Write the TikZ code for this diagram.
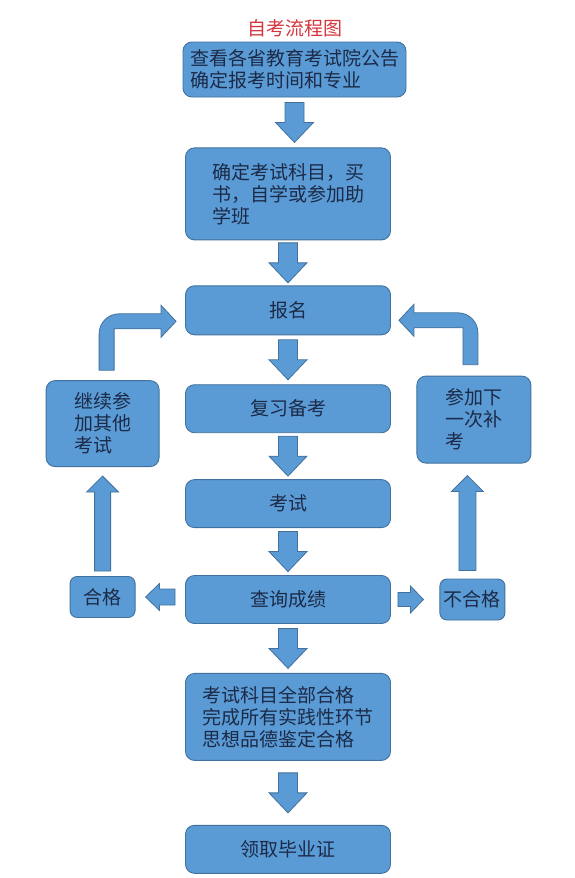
\documentclass[tikz,border=0pt]{standalone}
\usepackage{fontspec}
\setmainfont{Noto Sans CJK SC}
\usetikzlibrary{positioning,calc}
\definecolor{boxblue}{HTML}{5B9BD5}
\definecolor{boxline}{HTML}{41719C}
\definecolor{inktext}{HTML}{1B2A47}
\definecolor{titlered}{HTML}{D6363E}
\tikzset{
  box/.style={draw=boxline, fill=boxblue, line width=0.9pt, rounded corners=9pt, inner sep=3pt,
    text=inktext, font=\fontsize{19}{22}\selectfont, minimum width=205pt, minimum height=48pt},
  sidebox/.style={box, minimum width=113pt, minimum height=86pt},
  tagbox/.style={box, minimum width=65pt, minimum height=41pt, inner sep=1pt, rounded corners=7pt},
  blkarrow/.style={draw=boxline, fill=boxblue, line width=0.8pt, line join=miter},
}
% block arrow from #1 to tip #2: half shaft #3, half head #4, head length #5
\newcommand{\blk}[5]{%
  \coordinate (hb) at ($(#2)!#5!(#1)$);
  \draw[blkarrow] ($(#1)!#3!90:(#2)$) -- ($(hb)!#3!-90:(#1)$) -- ($(hb)!#4!-90:(#1)$) -- (#2)
    -- ($(hb)!#4!90:(#1)$) -- ($(hb)!#3!90:(#1)$) -- ($(#1)!#3!-90:(#2)$) -- cycle;}
% down arrow centred in the gap below #1
\newcommand{\downblk}[2]{%
  \coordinate (gm) at ($(#1.south)!.5!(#1.south |- #2.north)$);
  \coordinate (gs) at ($(gm)+(0,20pt)$);
  \coordinate (gt) at ($(gm)+(0,-20pt)$);
  \blk{gs}{gt}{9.5pt}{19pt}{20pt}}

\begin{document}
\begin{tikzpicture}
  \path[use as bounding box, fill=white] (0,0) rectangle (574pt,-878pt);

  \node[box, minimum width=223pt, minimum height=55pt, align=left] (notice) at (294.5pt,-69.5pt)
    {查看各省教育考试院公告\\确定报考时间和专业};
  \node[above=1pt of notice, text=titlered, font=\fontsize{19}{22}\selectfont] (title) {自考流程图};
  \node[box, minimum height=92pt, align=left, below=50pt of notice, xshift=-6.5pt] (subjects)
    {确定考试科目，买\\书，自学或参加助\\学班};
  \node[box, minimum height=49pt, below=45pt of subjects] (signup) {报名};
  \node[box, below=49pt of signup] (review) {复习备考};
  \node[box, below=46pt of review] (exam) {考试};
  \node[box, below=47pt of exam] (score) {查询成绩};
  \node[box, minimum height=87pt, align=left, below=49pt of score] (qualify)
    {考试科目全部合格\\完成所有实践性环节\\思想品德鉴定合格};
  \node[box, below=64pt of qualify] (cert) {领取毕业证};

  \node[tagbox, left=49.5pt of score, yshift=2.5pt] (pass) {合格};
  \node[tagbox, right=48.5pt of score] (fail) {不合格};
  \node[sidebox, align=left, above=109pt of pass] (other) {继续参\\加其他\\考试};
  \node[sidebox, align=left, minimum width=114pt, minimum height=87pt, above=115pt of fail, xshift=1.5pt] (retry)
    {参加下\\一次补\\考};

  % main column
  \downblk{notice}{subjects}
  \downblk{subjects}{signup}
  \downblk{signup}{review}
  \downblk{review}{exam}
  \downblk{exam}{score}
  \downblk{score}{qualify}
  \downblk{qualify}{cert}

  % results
  \coordinate (passfrom) at ($(score.west |- pass.east)+(-10pt,0)$);
  \coordinate (passto) at ($(pass.east)+(10pt,0)$);
  \blk{passfrom}{passto}{8pt}{13.5pt}{14pt}
  \coordinate (failfrom) at ($(score.east |- fail.west)+(7pt,0)$);
  \coordinate (failto) at ($(fail.west)+(-16pt,0)$);
  \blk{failfrom}{failto}{7pt}{13.5pt}{13pt}

  \coordinate (passup) at ($(pass.north)+(0,5pt)$);
  \coordinate (othertip) at ($(passup |- other.south)+(0,-9pt)$);
  \blk{passup}{othertip}{8pt}{16pt}{16pt}
  \coordinate (failup) at ($(fail.north)+(-5pt,8pt)$);
  \coordinate (retrytip) at ($(failup |- retry.south)+(0,-12pt)$);
  \blk{failup}{retrytip}{8.5pt}{16pt}{16pt}

  % back to signup
  \coordinate (lt) at ([xshift=4pt,yshift=10pt]other.north);
  \coordinate (ltip) at ([xshift=-9pt,yshift=-11pt]signup.west);
  \draw[blkarrow] ($(lt)+(-7.5pt,0)$) -- ($(lt |- ltip)+(-7.5pt,-12.5pt)$)
    arc[start angle=180, end angle=90, radius=20pt] -- ($(ltip)+(-15pt,7.5pt)$)
    -- ($(ltip)+(-15pt,16pt)$) -- (ltip) -- ($(ltip)+(-15pt,-16pt)$) -- ($(ltip)+(-15pt,-7.5pt)$)
    -- ($(lt |- ltip)+(7.5pt,-7.5pt)$) -- ($(lt)+(7.5pt,0)$) -- cycle;
  \coordinate (rt) at ([xshift=-3.5pt,yshift=11pt]retry.north);
  \coordinate (rtip) at ([xshift=8pt,yshift=-10pt]signup.east);
  \draw[blkarrow] ($(rt)+(7.5pt,0)$) -- ($(rt |- rtip)+(7.5pt,-12.5pt)$)
    arc[start angle=0, end angle=90, radius=20pt] -- ($(rtip)+(15pt,7.5pt)$)
    -- ($(rtip)+(15pt,16pt)$) -- (rtip) -- ($(rtip)+(15pt,-16pt)$) -- ($(rtip)+(15pt,-7.5pt)$)
    -- ($(rt |- rtip)+(-7.5pt,-7.5pt)$) -- ($(rt)+(-7.5pt,0)$) -- cycle;
\end{tikzpicture}
\end{document}
